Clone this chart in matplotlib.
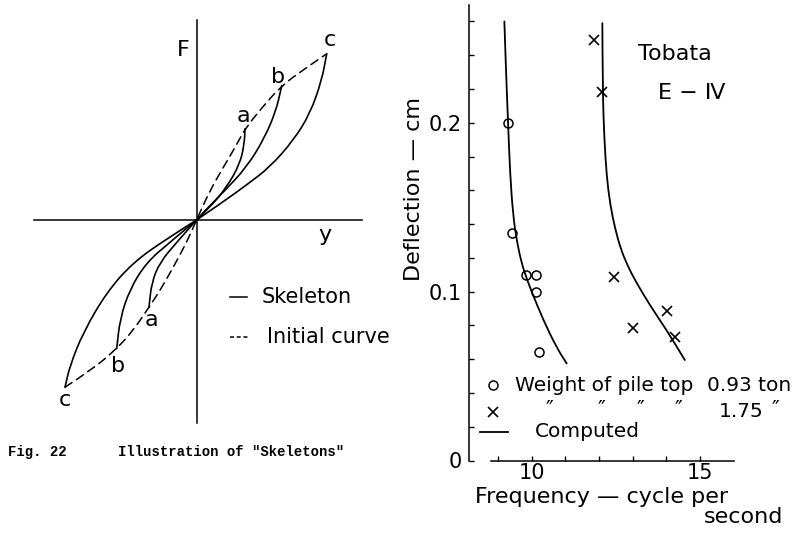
import numpy as np
import matplotlib.pyplot as plt
from matplotlib.path import Path
from matplotlib.patches import PathPatch
from matplotlib.ticker import FixedLocator, FixedFormatter

plt.rcParams['font.family'] = 'DejaVu Sans'

# ---- left sketch: F-y "skeletons" (units: pixels from the axis crossing) ----
init_up_x = [0, 13.5, 27, 40, 48.5, 66, 85.2, 108, 130.2]
init_up_y = [0, 29.5, 53, 75, 91.2, 113, 134.5, 151, 166.2]
init_lo_x = [0, -9.8, -23.2, -36.5, -47.5, -63, -79.8, -105, -131.5]
init_lo_y = [0, -22.2, -47.2, -70.5, -87.2, -110, -128.8, -150, -167.2]

skel_up = {
    'a': ([0, 13.5, 30.2, 43.5, 47.8, 48.5], [0, 12.8, 32.8, 56.2, 76.2, 91.2]),
    'b': ([0, 10.2, 26.8, 50.2, 68.5, 79.5, 84.2, 85.2], [0, 11.2, 27.8, 52.8, 82.8, 109.5, 129.5, 134.5]),
    'c': ([0, 25, 50, 73.5, 96.8, 113.5, 125.2, 130.2], [0, 17, 35, 53, 79.5, 106.2, 139.5, 166.2]),
}
skel_lo = {
    'a': ([0, -19.8, -36.5, -44.8, -47.5], [0, -22.2, -42.2, -62.2, -87.2]),
    'b': ([0, -26.5, -49.8, -66.5, -76.5, -79.8], [0, -22.2, -42.2, -68.8, -98.8, -128.8]),
    'c': ([0, -29.8, -63.2, -89.8, -113.2, -126.5, -131.5], [0, -18.8, -42.2, -72.2, -112.2, -145.5, -167.2]),
}

# ---- right chart: deflection vs frequency, Tobata E-IV ----
calc1_f = [9.19, 9.24, 9.30, 9.36, 9.45, 9.56, 9.70, 9.85, 10.0, 10.35, 10.74, 11.04]
calc1_d = [0.260, 0.230, 0.200, 0.170, 0.145, 0.130, 0.117, 0.108, 0.100, 0.083, 0.067, 0.0575]
calc2_f = [12.10, 12.11, 12.16, 12.23, 12.33, 12.47, 12.65, 12.86, 13.07, 13.51, 14.01, 14.55]
calc2_d = [0.259, 0.218, 0.190, 0.168, 0.152, 0.138, 0.125, 0.115, 0.1068, 0.092, 0.0772, 0.0595]

obs093_f = [9.30, 9.41, 9.82, 10.13, 10.12, 10.23]
obs093_d = [0.200, 0.1345, 0.1098, 0.1098, 0.0999, 0.0644]
obs175_f = [11.86, 12.08, 12.44, 13.00, 14.01, 14.26]
obs175_d = [0.249, 0.218, 0.1084, 0.0786, 0.0887, 0.0729]


def smooth_line(ax, xs, ys, **kw):
    # quadratic pieces between mid-points, so the hand-drawn curves stay round
    pts = list(zip(xs, ys))
    verts = [pts[0]]
    codes = [Path.MOVETO]
    for i in range(1, len(pts) - 1):
        mid = ((pts[i][0] + pts[i + 1][0]) / 2, (pts[i][1] + pts[i + 1][1]) / 2)
        verts += [pts[i], mid]
        codes += [Path.CURVE3, Path.CURVE3]
    verts.append(pts[-1])
    codes.append(Path.LINETO)
    ax.add_patch(PathPatch(Path(verts, codes), fill=False, capstyle='round', **kw))


fig = plt.figure(figsize=(7.99, 5.41), dpi=100)

# left panel drawn in pixel-like units
axL = fig.add_axes([0, 0, 400 / 799, 1])
axL.set_xlim(-196.5, 203.5)
axL.set_ylim(-321, 220)
axL.axis('off')

axL.plot([0, 0], [200, -203], color='k', lw=1.1)
axL.plot([-163, 165], [0, 0], color='k', lw=1.1)
smooth_line(axL, init_lo_x[::-1] + init_up_x[1:], init_lo_y[::-1] + init_up_y[1:],
            color='k', lw=1.1, linestyle=(0, (5.5, 3.5)))
for k in 'abc':
    smooth_line(axL, *skel_up[k], color='k', lw=1.2)
    smooth_line(axL, *skel_lo[k], color='k', lw=1.2)

lab = dict(fontsize=16, ha='center', va='center')
axL.text(-13, 170, 'F', **lab)
axL.text(128.5, -15, 'y', **lab)
axL.text(46.8, 104.5, 'a', **lab)
axL.text(81.8, 142.8, 'b', **lab)
axL.text(133.5, 179.5, 'c', **lab)
axL.text(-44.8, -100.5, 'a', **lab)
axL.text(-78.2, -145.5, 'b', **lab)
axL.text(-131.5, -180, 'c', **lab)

axL.plot([33.5, 50.2], [-76.7, -76.7], color='k', lw=1.1)
axL.text(65.2, -77, 'Skeleton', fontsize=15, va='center')
axL.plot([33.5, 51.5], [-116.7, -116.7], color='k', lw=1.1, dashes=(2.6, 1.8))
axL.text(70.2, -117, 'Initial curve', fontsize=15, va='center')

cap = dict(family='Liberation Mono', weight='bold', fontsize=10, va='center')
axL.text(-188.5, -232, 'Fig. 22', **cap)
axL.text(-78.5, -232, 'Illustration of "Skeletons"', **cap)

# right panel
axR = fig.add_axes([469 / 799, 80.5 / 541, 281.5 / 799, 455.9 / 541])
axR.set_xlim(8.14, 16.5)
axR.set_ylim(0, 0.27)
axR.patch.set_alpha(0)
for s in ['top', 'right']:
    axR.spines[s].set_visible(False)
axR.spines['left'].set_linewidth(1.1)
axR.spines['bottom'].set_linewidth(1.1)
axR.spines['bottom'].set_bounds(8.78, 16.0)

axR.xaxis.set_major_locator(FixedLocator([10, 15]))
axR.xaxis.set_minor_locator(FixedLocator([9, 11, 12, 13, 14]))
axR.yaxis.set_major_locator(FixedLocator([0, 0.1, 0.2]))
axR.yaxis.set_major_formatter(FixedFormatter(['0', '0.1', '0.2']))
axR.yaxis.set_minor_locator(FixedLocator([0.02, 0.04, 0.06, 0.08, 0.12, 0.14, 0.16, 0.18, 0.22, 0.24, 0.26]))
axR.tick_params(which='both', direction='in', length=3.5, width=1, labelsize=15)
axR.tick_params(axis='x', pad=2)
axR.tick_params(axis='y', pad=5)

smooth_line(axR, calc1_f, calc1_d, color='k', lw=1.3)
smooth_line(axR, calc2_f, calc2_d, color='k', lw=1.3)
axR.plot(obs093_f, obs093_d, 'o', mfc='none', mec='k', ms=6.5, mew=1.1)
axR.plot(obs175_f, obs175_d, 'x', color='k', ms=7, mew=1.2)

# hand-made key
axR.plot([8.86], [0.0447], 'o', mfc='none', mec='k', ms=6.5, mew=1.1)
axR.plot([8.86], [0.0289], 'x', color='k', ms=7, mew=1.2)
axR.plot([8.46, 9.30], [0.017, 0.017], color='k', lw=1.3)
axR.text(9.5, 0.0447, 'Weight of pile top', fontsize=14.5, va='center')
axR.text(15.2, 0.0447, '0.93 ton', fontsize=14.5, va='center')
for xd in [10.54, 12.08, 13.22, 14.36, 17.23]:
    axR.text(xd, 0.030, '\u2033', fontsize=15, ha='center', va='center')
axR.text(15.55, 0.0289, '1.75', fontsize=14.5, va='center')
axR.text(10.1, 0.017, 'Computed', fontsize=14.5, va='center')

axR.text(14.26, 0.241, 'Tobata', fontsize=16, ha='center', va='center')
axR.text(14.76, 0.2175, 'E \u2212 \u2163', fontsize=16, ha='center', va='center')

axR.text(6.5, 0.161, 'Deflection \u2014 cm', fontsize=16, rotation=90, ha='center', va='center')
axR.text(12.08, -0.0214, 'Frequency \u2014 cycle per', fontsize=16, ha='center', va='center')
axR.text(17.47, -0.0333, 'second', fontsize=16, ha='right', va='center')

fig.savefig('out.png', dpi=100, facecolor='white')
